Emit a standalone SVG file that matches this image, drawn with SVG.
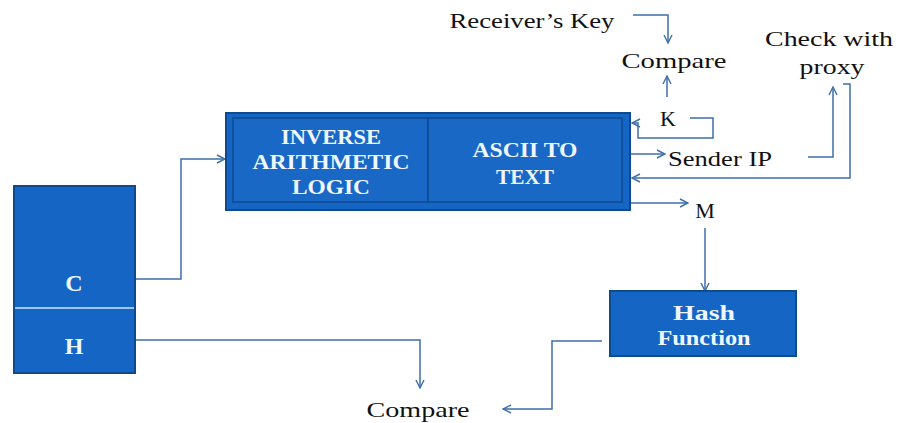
<svg xmlns="http://www.w3.org/2000/svg" width="898" height="423" viewBox="0 0 898 423">
<defs>
<style>
.blk{fill:#1565c4;stroke:#0e4a8e;stroke-width:2}
.inn{fill:#1a68c6;stroke:#0e4a8e;stroke-width:1.5}
.bt{font-family:'Liberation Serif','Times New Roman',Times,serif;font-weight:bold;font-size:21px;fill:#eef7ff;text-anchor:middle}
.lt{font-family:'Liberation Serif','Times New Roman',Times,serif;font-size:22px;fill:#111;text-anchor:middle}
.big{font-size:24px}
.cn{fill:none;stroke:#3d6fa8;stroke-width:1.5}
</style>
<marker id="ar" viewBox="0 0 10 10" refX="9" refY="5" markerWidth="10" markerHeight="10" markerUnits="userSpaceOnUse" orient="auto">
<path d="M1,1 L9,5 L1,9" fill="none" stroke="#3d6fa8" stroke-width="1.4"/>
</marker>
</defs>
<rect width="898" height="423" fill="#ffffff"/>
<g id="connectors">
<path class="cn" d="M135,279 H181 V159 H225" marker-end="url(#ar)"/>
<path class="cn" d="M135,340 H420 V388" marker-end="url(#ar)"/>
<path class="cn" d="M633,15 H668 V43" marker-end="url(#ar)"/>
<path class="cn" d="M667,97 V76" marker-end="url(#ar)"/>
<path class="cn" d="M690,118 H713 V138 H638 V123 H632" marker-end="url(#ar)"/>
<path class="cn" d="M631,154 H665" marker-end="url(#ar)"/>
<path class="cn" d="M808,157 H833 V87" marker-end="url(#ar)"/>
<path class="cn" d="M843,84 H850 V178 H632" marker-end="url(#ar)"/>
<path class="cn" d="M631,203 H688" marker-end="url(#ar)"/>
<path class="cn" d="M705,228 V291" marker-end="url(#ar)"/>
<path class="cn" d="M602,341 H552 V409 H503" marker-end="url(#ar)"/>
</g>
<g id="node-ch">
<rect class="blk" x="14" y="186" width="121" height="187"/>
<line x1="15" y1="308" x2="134" y2="308" stroke="#cfe4ff" stroke-width="1.5"/>
<text class="bt big" x="74" y="291">C</text>
<text class="bt big" x="74" y="354">H</text>
</g>
<g id="node-decoder">
<rect class="blk" x="226" y="113" width="404" height="97"/>
<rect class="inn" x="233" y="118" width="195" height="84"/>
<rect class="inn" x="428" y="118" width="194" height="84"/>
<text class="bt" x="331" y="144" textLength="100" lengthAdjust="spacingAndGlyphs">INVERSE</text>
<text class="bt" x="331" y="169" textLength="157" lengthAdjust="spacingAndGlyphs">ARITHMETIC</text>
<text class="bt" x="331" y="194" textLength="78" lengthAdjust="spacingAndGlyphs">LOGIC</text>
<text class="bt" x="525" y="157" textLength="105" lengthAdjust="spacingAndGlyphs">ASCII TO</text>
<text class="bt" x="525" y="184" textLength="58" lengthAdjust="spacingAndGlyphs">TEXT</text>
</g>
<g id="node-hash">
<rect class="blk" x="610" y="291" width="186" height="65"/>
<text class="bt" x="704" y="320" textLength="62" lengthAdjust="spacingAndGlyphs">Hash</text>
<text class="bt" x="704" y="345" textLength="93" lengthAdjust="spacingAndGlyphs">Function</text>
</g>
<g id="node-receiver-key"><text class="lt" x="532" y="28" textLength="165" lengthAdjust="spacingAndGlyphs">Receiver’s Key</text></g>
<g id="node-compare-top"><text class="lt" x="674" y="68" textLength="105" lengthAdjust="spacingAndGlyphs">Compare</text></g>
<g id="node-check-proxy">
<text class="lt" x="829" y="46" textLength="128" lengthAdjust="spacingAndGlyphs">Check with</text>
<text class="lt" x="832" y="74" textLength="65" lengthAdjust="spacingAndGlyphs">proxy</text>
</g>
<g id="node-k"><text class="lt" x="668" y="126">K</text></g>
<g id="node-sender-ip"><text class="lt" x="720" y="166" textLength="104" lengthAdjust="spacingAndGlyphs">Sender IP</text></g>
<g id="node-m"><text class="lt" x="705" y="218">M</text></g>
<g id="node-compare-bottom"><text class="lt" x="418" y="417" textLength="103" lengthAdjust="spacingAndGlyphs">Compare</text></g>
</svg>
